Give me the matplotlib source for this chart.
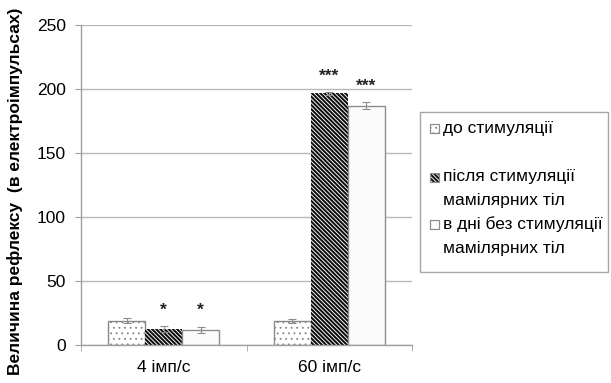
import matplotlib
matplotlib.use("Agg")
import matplotlib.pyplot as plt
import numpy as np
from matplotlib.patches import Rectangle

plt.rcParams['font.family'] = ['Liberation Sans', 'DejaVu Sans']
plt.rcParams['hatch.linewidth'] = 0.65

categories = ['4 імп/с', '60 імп/с']
series_labels = ['до стимуляції', 'після стимуляції\nмамілярних тіл', 'в дні без стимуляції\nмамілярних тіл']
before = [19, 19]
before_err = [2, 1.5]
after = [12.3, 196.5]
after_err = [2.3, 1.2]
nostim = [11.7, 187]
nostim_err = [2.6, 2.8]
after_sig = ['*', '***']
nostim_sig = ['*', '***']
yticks = [0, 50, 100, 150, 200, 250]

FS = 12.5
W, H = 611, 383
fig = plt.figure(figsize=(W / 100, H / 100), dpi=100)
ax = fig.add_axes([81 / W, 1 - 345 / H, (412 - 81) / W, (345 - 25) / H])

x = np.arange(len(categories))
w = 0.2236
grey = '#8c8c8c'
dark_hatch = '\\' * 8

ax.set_axisbelow(True)
ax.yaxis.grid(True, color='#b8b8b8', lw=1.0)

ax.bar(x - w, before, w, color='white', edgecolor='#8a8a8a', hatch='...', lw=1.0, zorder=2)
ax.bar(x, after, w, color='#0d0d0d', edgecolor='white', hatch=dark_hatch, lw=0, zorder=2)
ax.bar(x + w, nostim, w, color='#fbfbfb', edgecolor='#8c8c8c', lw=1.0, zorder=2)

ek = dict(fmt='none', ecolor=grey, elinewidth=0.8, capsize=3, capthick=0.8, zorder=3)
ax.errorbar(x - w, before, yerr=before_err, **ek)
ax.errorbar(x, after, yerr=after_err, **ek)
ax.errorbar(x + w, nostim, yerr=nostim_err, **ek)

for i in range(len(categories)):
    ax.text(x[i], after[i] + after_err[i] + 12.5, after_sig[i], ha='center', va='center',
            fontsize=FS, fontweight='bold', color='#222222')
    ax.text(x[i] + w, nostim[i] + nostim_err[i] + 12.5, nostim_sig[i], ha='center', va='center',
            fontsize=FS, fontweight='bold', color='#222222')

ax.set_xlim(-0.5, len(categories) - 0.5)
ax.set_ylim(0, 250)
ax.set_yticks(yticks)
ax.set_xticks(x)
ax.set_xticklabels(categories, fontsize=FS)
ax.set_xticks(np.arange(len(categories) + 1) - 0.5, minor=True)
ax.tick_params(axis='x', which='major', length=0, pad=11)
ax.tick_params(axis='x', which='minor', length=4, color='#a0a0a0', direction='out')
ax.tick_params(axis='y', length=4, color='#a0a0a0', labelsize=FS, pad=7)
for s in ['top', 'right']:
    ax.spines[s].set_visible(False)
for s in ['left', 'bottom']:
    ax.spines[s].set_color('#a0a0a0')
    ax.spines[s].set_linewidth(1.0)

fig.text(15 / W, 1 - 191 / H, 'Величина рефлексу  (в електроімпульсах)', rotation=90,
         ha='center', va='center', fontsize=FS, fontweight='bold')

# legend
fig.add_artist(Rectangle((420 / W, 1 - 272 / H), (608 - 420) / W, (272 - 112) / H,
                         transform=fig.transFigure, fill=False, ec='#a6a6a6', lw=1.0))
line_y = [[128], [177, 200], [224, 248]]
styles = [dict(facecolor='white', edgecolor='#8a8a8a', hatch='...'),
          dict(facecolor='#0d0d0d', edgecolor='white', hatch=dark_hatch),
          dict(facecolor='#fbfbfb', edgecolor='#8c8c8c', hatch=None)]
for lab, ys, st in zip(series_labels, line_y, styles):
    y0 = ys[0]
    fig.add_artist(Rectangle((430 / W, 1 - (y0 + 4.5) / H), 9 / W, 9 / H,
                             transform=fig.transFigure, lw=0.8, **st))
    fig.add_artist(Rectangle((430 / W, 1 - (y0 + 4.5) / H), 9 / W, 9 / H,
                             transform=fig.transFigure, fill=False, ec='#8c8c8c', lw=0.8))
    for line, yy in zip(lab.split('\n'), ys):
        fig.text(443 / W, 1 - yy / H, line, ha='left', va='center', fontsize=FS)

fig.savefig('out.png', dpi=100)
